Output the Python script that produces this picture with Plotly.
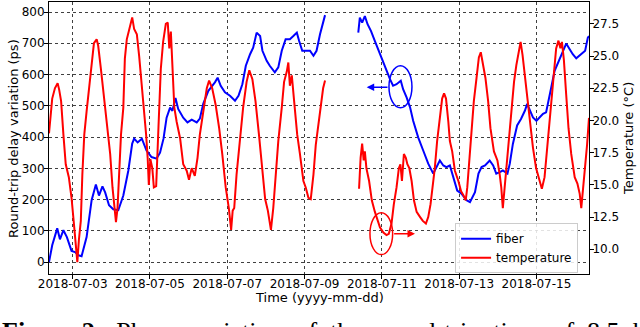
import pandas as pd
import plotly.graph_objects as go

BASE = pd.Timestamp("2018-07-02")

# fiber round-trip delay variation (ps); days since 2018-07-02, None = gap
fiber_days = [0.387, 0.47, 0.60, 0.67, 0.76, 0.85, 0.97, 1.06, 1.15, 1.23, 1.36, 1.49, 1.60, 1.68, 1.77,
              1.84, 1.94, 2.05, 2.18, 2.31, 2.44, 2.54, 2.59, 2.68, 2.79, 2.91, 3.04, 3.17, 3.26, 3.35,
              3.43, 3.52, 3.58, 3.66, 3.73, 3.86, 3.97, 4.08, 4.21, 4.29, 4.38, 4.51, 4.61, 4.68, 4.75,
              4.83, 4.94, 5.07, 5.20, 5.29, 5.39, 5.48, 5.59, 5.67, 5.76, 5.85, 5.91, 6.02, 6.10, 6.23,
              6.32, 6.41, 6.51, 6.62, 6.71, 6.80, 6.86, 6.94, 7.05, 7.14, 7.23, 7.31, 7.40, 7.49, 7.53,
              None,
              8.39, 8.43, 8.49, 8.56, 8.63, 8.72, 8.82, 8.95, 9.08, 9.21, 9.29, 9.38, 9.49, 9.55, 9.64,
              9.73, 9.81, 9.94, 10.07, 10.20, 10.33, 10.41, 10.50, 10.59, 10.67, 10.76, 10.85, 10.95,
              11.06, 11.19, 11.28, 11.41, 11.50, 11.58, 11.67, 11.79, 11.88, 11.96, 12.05, 12.13, 12.25,
              12.31, 12.39, 12.50, 12.60, 12.70, 12.76, 12.83, 12.91, 13.00, 13.08, 13.17, 13.25, 13.34,
              13.40, 13.47, 13.56, 13.64, 13.71, 13.77, 13.86, 13.94, 14.03, 14.11, 14.20, 14.26, 14.33,
              14.36]
fiber_ps = [0, 54, 108, 73, 102, 80, 36, 32, 22, 19, 80, 198, 248, 213, 242,
            223, 182, 169, 166, 213, 293, 379, 395, 383, 395, 357, 336, 331, 350, 395,
            462, 494, 484, 525, 490, 462, 447, 456, 447, 459, 507, 548, 564, 575, 590,
            564, 543, 532, 516, 532, 569, 628, 665, 686, 734, 723, 676, 644, 628, 607,
            623, 676, 713, 713, 723, 734, 707, 676, 676, 676, 660, 676, 729, 771, 790,
            None,
            734, 782, 766, 787, 761, 739, 707, 665, 628, 585, 564, 569, 580, 553, 527,
            495, 452, 399, 357, 315, 283, 304, 325, 309, 304, 309, 272, 229,
            219, 198, 192, 224, 283, 304, 309, 325, 309, 283, 288, 293, 283,
            315, 378, 437, 458, 484, 506, 484, 463, 452, 463, 474, 479, 527,
            569, 612, 638, 660, 681, 699, 681, 665, 652, 660, 670, 676, 718,
            723]

# temperature (°C); days since 2018-07-02, None = gap
temp_days = [0.387, 0.42, 0.47, 0.54, 0.61, 0.65, 0.70, 0.76, 0.82, 0.90, 0.97, 1.04, 1.08, 1.12, 1.16,
             1.21, 1.25, 1.30, 1.36, 1.43, 1.49, 1.55, 1.62, 1.66, 1.73, 1.82, 1.91, 1.97, 2.03, 2.08,
             2.12, 2.16, 2.20, 2.25, 2.31, 2.35, 2.40, 2.46, 2.54, 2.59, 2.66, 2.72, 2.79, 2.84, 2.90,
             2.94, 2.97, 3.01, 3.06, 3.10, 3.16, 3.22, 3.28, 3.34, 3.41, 3.46, 3.50, 3.54, 3.58, 3.63,
             3.69, 3.78, 3.86, 3.95, 4.01, 4.08, 4.16, 4.23, 4.29, 4.38, 4.47, 4.53, 4.61, 4.70, 4.79,
             4.87, 4.96, 5.04, 5.10, 5.14, 5.18, 5.24, 5.33, 5.41, 5.50, 5.57, 5.65, 5.73, 5.82, 5.91,
             5.98, 6.05, 6.13, 6.19, 6.25, 6.32, 6.41, 6.47, 6.54, 6.58, 6.62, 6.67, 6.73, 6.81, 6.88,
             6.97, 7.03, 7.10, 7.16, 7.23, 7.29, 7.36, 7.42, 7.48, 7.53,
             None,
             8.41, 8.45, 8.49, 8.53, 8.56, 8.60, 8.67, 8.74, 8.82, 8.88, 8.95, 9.04, 9.12, 9.18, 9.25,
             9.31, 9.38, 9.44, 9.48, 9.52, 9.57, 9.62, 9.66, 9.71, 9.77, 9.83, 9.90, 9.99, 10.06, 10.14,
             10.20, 10.26, 10.31, 10.37, 10.43, 10.50, 10.56, 10.61, 10.66, 10.72, 10.76, 10.82, 10.89,
             10.98, 11.05, 11.11, 11.17, 11.21, 11.26, 11.32, 11.38, 11.45, 11.51, 11.56, 11.62, 11.68,
             11.75, 11.81, 11.90, 11.99, 12.05, 12.09, 12.13, 12.18, 12.23, 12.29, 12.35, 12.42, 12.48,
             12.54, 12.59, 12.64, 12.69, 12.76, 12.83, 12.91, 12.99, 13.08, 13.14, 13.21, 13.27, 13.34,
             13.40, 13.45, 13.51, 13.57, 13.62, 13.66, 13.71, 13.77, 13.83, 13.90, 13.99, 14.06, 14.12,
             14.16, 14.21, 14.25, 14.31, 14.36]
temp_c = [19.0, 20.2, 21.7, 22.5, 22.9, 22.4, 21.5, 18.9, 16.6, 15.6, 14.0, 11.7, 10.2, 9.0, 10.7,
          12.2, 15.8, 18.9, 20.7, 22.7, 24.8, 26.0, 26.3, 25.8, 24.0, 21.7, 19.4, 17.4, 14.8, 13.2,
          12.1, 13.2, 16.3, 18.9, 21.0, 24.8, 26.3, 27.1, 28.0, 27.1, 26.7, 25.0, 22.7, 20.7, 18.9,
          17.1, 15.0, 17.0, 16.3, 14.8, 14.9, 19.5, 24.0, 26.1, 27.5, 27.6, 25.6, 26.9, 24.0, 21.0,
          19.9, 18.6, 16.6, 16.1, 15.4, 16.3, 15.7, 17.1, 18.9, 20.7, 22.5, 23.1, 22.5, 21.2, 19.4,
          17.4, 14.8, 13.2, 11.5, 13.0, 13.2, 15.8, 18.4, 21.0, 23.0, 23.9, 23.2, 21.5, 18.9, 16.3,
          13.9, 13.0, 11.5, 13.2, 15.8, 18.4, 21.0, 23.0, 23.8, 24.5, 22.7, 23.5, 21.5, 18.9, 17.4,
          15.3, 14.8, 14.0, 13.9, 15.8, 18.1, 19.9, 21.2, 22.5, 23.1,
          None,
          14.7, 17.1, 18.2, 16.9, 17.6, 16.3, 15.3, 13.8, 12.9, 12.3, 11.7, 11.3, 11.1, 11.2, 12.0,
          13.5, 14.8, 16.3, 16.6, 15.3, 17.4, 17.1, 16.6, 16.3, 15.3, 13.8, 12.9, 12.5, 12.2, 12.0,
          12.5, 13.5, 14.8, 16.3, 18.4, 20.2, 21.7, 22.1, 21.7, 19.9, 18.4, 17.6, 16.1,
          15.3, 14.5, 14.2, 13.8, 14.8, 16.9, 19.4, 21.5, 23.3, 24.9, 25.3, 24.4, 23.3,
          21.5, 19.4, 17.6, 16.9, 15.8, 14.8, 13.2, 14.8, 16.6, 18.9, 20.7, 23.0, 24.3,
          25.2, 26.1, 25.1, 23.8, 22.0, 19.9, 17.9, 16.3, 15.2, 14.7, 15.6, 17.6, 20.2,
          22.2, 24.0, 25.6, 26.2, 25.6, 26.1, 24.7, 22.0, 19.4, 17.4, 15.6, 15.1, 14.3,
          13.2, 14.8, 15.8, 18.1, 20.2]

x_tick_dates = ["2018-07-03", "2018-07-05", "2018-07-07", "2018-07-09",
                "2018-07-11", "2018-07-13", "2018-07-15"]

caption_label = "Figure 2:"
caption_words = ["Phase", "variation", "of", "the", "round-trip", "time", "of", "8.5", "km", "fiber"]


def to_time(days):
    return [None if d is None else BASE + pd.Timedelta(days=d) for d in days]


def t(d):
    return BASE + pd.Timedelta(days=d)


FONT = "DejaVu Sans"

fig = go.Figure()
fig.add_trace(go.Scatter(x=to_time(fiber_days), y=fiber_ps, mode="lines", name="fiber",
                         line=dict(color="#0000ff", width=2), connectgaps=False))
fig.add_trace(go.Scatter(x=to_time(temp_days), y=temp_c, mode="lines", name="temperature",
                         line=dict(color="#ff0000", width=2), connectgaps=False, yaxis="y2"))

# ellipses and arrows
fig.add_shape(type="circle", xref="x", yref="y", x0=t(9.184), x1=t(9.779), y0=494, y1=628,
              line=dict(color="#0000ff", width=1.5))
fig.add_shape(type="circle", xref="x", yref="y", x0=t(8.692), x1=t(9.279), y0=24, y1=158,
              line=dict(color="#ff0000", width=1.5))
fig.add_annotation(x=t(8.607), y=559, ax=t(9.184), ay=559, xref="x", yref="y", axref="x", ayref="y",
                   text="", showarrow=True, arrowhead=2, arrowsize=1, arrowwidth=1.5, arrowcolor="#0000ff")
fig.add_annotation(x=t(9.857), y=91, ax=t(9.279), ay=91, xref="x", yref="y", axref="x", ayref="y",
                   text="", showarrow=True, arrowhead=2, arrowsize=1, arrowwidth=1.5, arrowcolor="#ff0000")

# axis titles
title_font = dict(family=FONT, size=13, color="black")
fig.add_annotation(xref="paper", yref="paper", x=0.5, y=-0.0846, xanchor="center", yanchor="middle",
                   showarrow=False, text="Time (yyyy-mm-dd)", font=title_font)
fig.add_annotation(xref="paper", yref="paper", x=-0.0667, y=0.5, xanchor="center", yanchor="middle",
                   showarrow=False, text="Round-trip delay variation (ps)", textangle=-90, font=title_font)
fig.add_annotation(xref="paper", yref="paper", x=1.0722, y=0.5, xanchor="center", yanchor="middle",
                   showarrow=False, text="Temperature (°C)", textangle=-90, font=title_font)

# caption fragment at the bottom (justified text -> widened spaces)
gap = "\u00a0\u00a0"
caption_text = "<b>" + caption_label + "</b>" + gap + gap.join(caption_words)
fig.add_annotation(xref="paper", yref="paper", x=-0.0907, y=-0.150, xanchor="left", yanchor="top",
                   showarrow=False, align="left", text=caption_text,
                   font=dict(family="Liberation Serif", size=26, color="black"))

axis_common = dict(showline=True, linecolor="black", linewidth=1, ticks="outside", ticklen=4,
                   tickcolor="black", tickfont=dict(family=FONT, size=12, color="black"),
                   zeroline=False, automargin=False)

fig.update_layout(
    template="none",
    width=640, height=327,
    margin=dict(l=49, r=51, t=2, b=53),
    paper_bgcolor="white", plot_bgcolor="white",
    font=dict(family=FONT, color="black"),
    xaxis=dict(**axis_common, mirror=True, type="date",
               range=[t(0.387), t(14.36)],
               tickvals=x_tick_dates, tickformat="%Y-%m-%d", ticklabelstandoff=-5,
               showgrid=True, gridcolor="rgba(0,0,0,0.75)", griddash="dot", gridwidth=1),
    yaxis=dict(**axis_common, mirror=True, range=[-38, 832], tickvals=[0, 100, 200, 300, 400, 500, 600, 700, 800],
               ticklabelstandoff=-3,
               showgrid=True, gridcolor="rgba(0,0,0,0.75)", griddash="dot", gridwidth=1),
    yaxis2=dict(**axis_common, overlaying="y", side="right", range=[8.08, 29.2],
                tickvals=[10, 12.5, 15, 17.5, 20, 22.5, 25, 27.5], tickformat=".1f", showgrid=False,
                ticklabelstandoff=-4),
    legend=dict(x=0.752, y=0.187, xanchor="left", yanchor="top",
                bgcolor="rgba(255,255,255,0.85)", bordercolor="#cccccc", borderwidth=1,
                font=dict(family=FONT, size=12, color="black"), tracegroupgap=0, itemwidth=30),
    showlegend=True,
)

fig.write_html("out.html", config={"displayModeBar": False},
               post_script="document.body.style.margin='0';document.body.style.padding='0';")
